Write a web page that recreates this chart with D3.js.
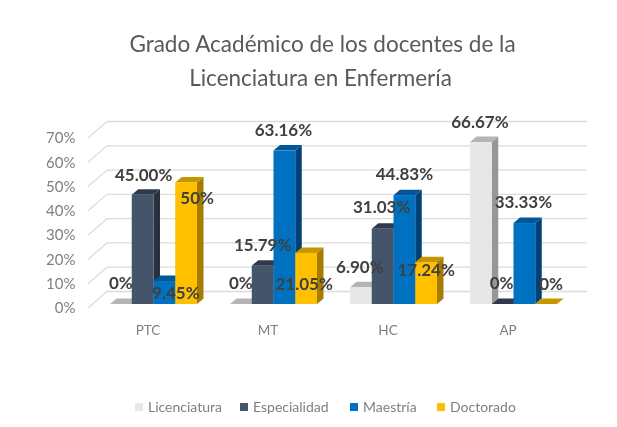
<!DOCTYPE html>
<html><head><meta charset="utf-8">
<script src="https://cdn.jsdelivr.net/npm/d3@7/dist/d3.min.js"></script>
<style>html,body{margin:0;padding:0;background:#fff;overflow:hidden}svg{display:block;filter:blur(.55px)}text{font-family:Lato,"Open Sans",sans-serif}</style>
</head><body><svg id="c" width="617" height="427"></svg>
<script>
const categories=["PTC","MT","HC","AP"];
const seriesNames=["Licenciatura","Especialidad","Maestría","Doctorado"];
const licenciatura=[0,0,6.90,66.67];
const especialidad=[45.00,15.79,31.03,0];
const maestria=[9.45,63.16,44.83,33.33];
const doctorado=[50,21.05,17.24,0];
const labelsLic=["0%","0%","6.90%","66.67%"];
const labelsEsp=["45.00%","15.79%","31.03%","0%"];
const labelsMae=["9.45%","63.16%","44.83%","33.33%"];
const labelsDoc=["50%","21.05%","17.24%","0%"];
const yTicks=[0,10,20,30,40,50,60,70];
const values=[licenciatura,especialidad,maestria,doctorado];
const labels=[labelsLic,labelsEsp,labelsMae,labelsDoc];
const faces=[["#e7e7e7","#b4b4b4","#979797"],["#44546a","#2f3b4b","#28323f"],["#0070c0","#00569a","#004278"],["#ffc000","#c79500","#a67c00"]];
// label centres relative to the top-centre of each bar, [category][series] = [dx,dy]
const nudges=[
 [[0,-21],[1,-20],[11.5,12],[11,15]],
 [[0,-21],[0,-20.6],[-1,-20.6],[-2,31]],
 [[-1,-20],[-1,-21.6],[0,-21],[0,8]],
 [[-1,-20],[-1,-21],[-1,-21],[5,-20]]];
const svg=d3.select("#c");
const y=d3.scaleLinear().domain([0,70]).range([304,134]);
const x0=d3.scaleBand().domain(categories).range([88,568]);
const x1=d3.scaleBand().domain(seriesNames).range([22,109]);
const dx=6.5,dy=5.5,wallX=19,wallY=16.5;
const tickY=d=>y(d)+4;
const g=svg.append("g");
yTicks.forEach(t=>{
 const yy=tickY(t);
 g.append("path").attr("d",`M88,${yy}L${88+wallX},${yy-wallY}L587,${yy-wallY}`).attr("fill","none").attr("stroke","#dcdcdc").attr("stroke-width",1.3);
});
const yAxis=d3.axisLeft(d3.scaleLinear().domain([0,70]).range([tickY(0),tickY(70)])).tickValues(yTicks).tickFormat(d=>d+"%").tickSize(0).tickPadding(0);
const ya=svg.append("g").attr("transform","translate(75.5,0)").call(yAxis);
ya.select(".domain").remove();
ya.selectAll("text").attr("fill","#7f7f7f").style("font-size","15px").style("font-family","Lato");
const xAxis=d3.axisBottom(x0).tickSize(0).tickPadding(0);
const xa=svg.append("g").attr("transform","translate(0,325)").call(xAxis);
xa.select(".domain").remove();
xa.selectAll("text").attr("fill","#7f7f7f").style("font-size","13.5px").style("font-family","Lato");
categories.forEach((c,ci)=>{
 seriesNames.forEach((s,si)=>{
  const v=values[si][ci],l=x0(c)+x1(s),w=x1.bandwidth(),r=l+w,top=y(v),b=y(0),f=faces[si];
  const bar=svg.append("g");
  bar.append("path").attr("d",`M${r},${top}L${r+dx},${top-dy}L${r+dx},${b-dy}L${r},${b}Z`).attr("fill",f[2]);
  bar.append("path").attr("d",`M${l},${top}L${l+dx},${top-dy}L${r+dx},${top-dy}L${r},${top}Z`).attr("fill",f[1]);
  bar.append("rect").attr("x",l).attr("y",top).attr("width",w).attr("height",b-top).attr("fill",f[0]);
 });
});
categories.forEach((c,ci)=>{
 seriesNames.forEach((s,si)=>{
  const v=values[si][ci],n=nudges[ci][si];
  svg.append("text").attr("x",x0(c)+x1(s)+x1.bandwidth()/2+n[0]).attr("y",y(v)+n[1]).attr("dy","0.35em")
   .attr("text-anchor","middle").attr("fill","#404040").attr("font-size",17).attr("font-weight",700).text(labels[si][ci]);
 });
});
svg.append("text").attr("x",322.5).attr("y",52).attr("text-anchor","middle").attr("fill","#595959").attr("font-size",22.5).text("Grado Académico de los docentes de la");
svg.append("text").attr("x",320.5).attr("y",86).attr("text-anchor","middle").attr("fill","#595959").attr("font-size",22.5).text("Licenciatura en Enfermería");
const legendSq=[135,240,350,437];
seriesNames.forEach((s,i)=>{
 svg.append("rect").attr("x",legendSq[i]).attr("y",403).attr("width",8).attr("height",8).attr("fill",faces[i][0]);
 svg.append("text").attr("x",legendSq[i]+13).attr("y",412).attr("fill","#7f7f7f").attr("font-size",14).text(s);
});
</script></body></html>
